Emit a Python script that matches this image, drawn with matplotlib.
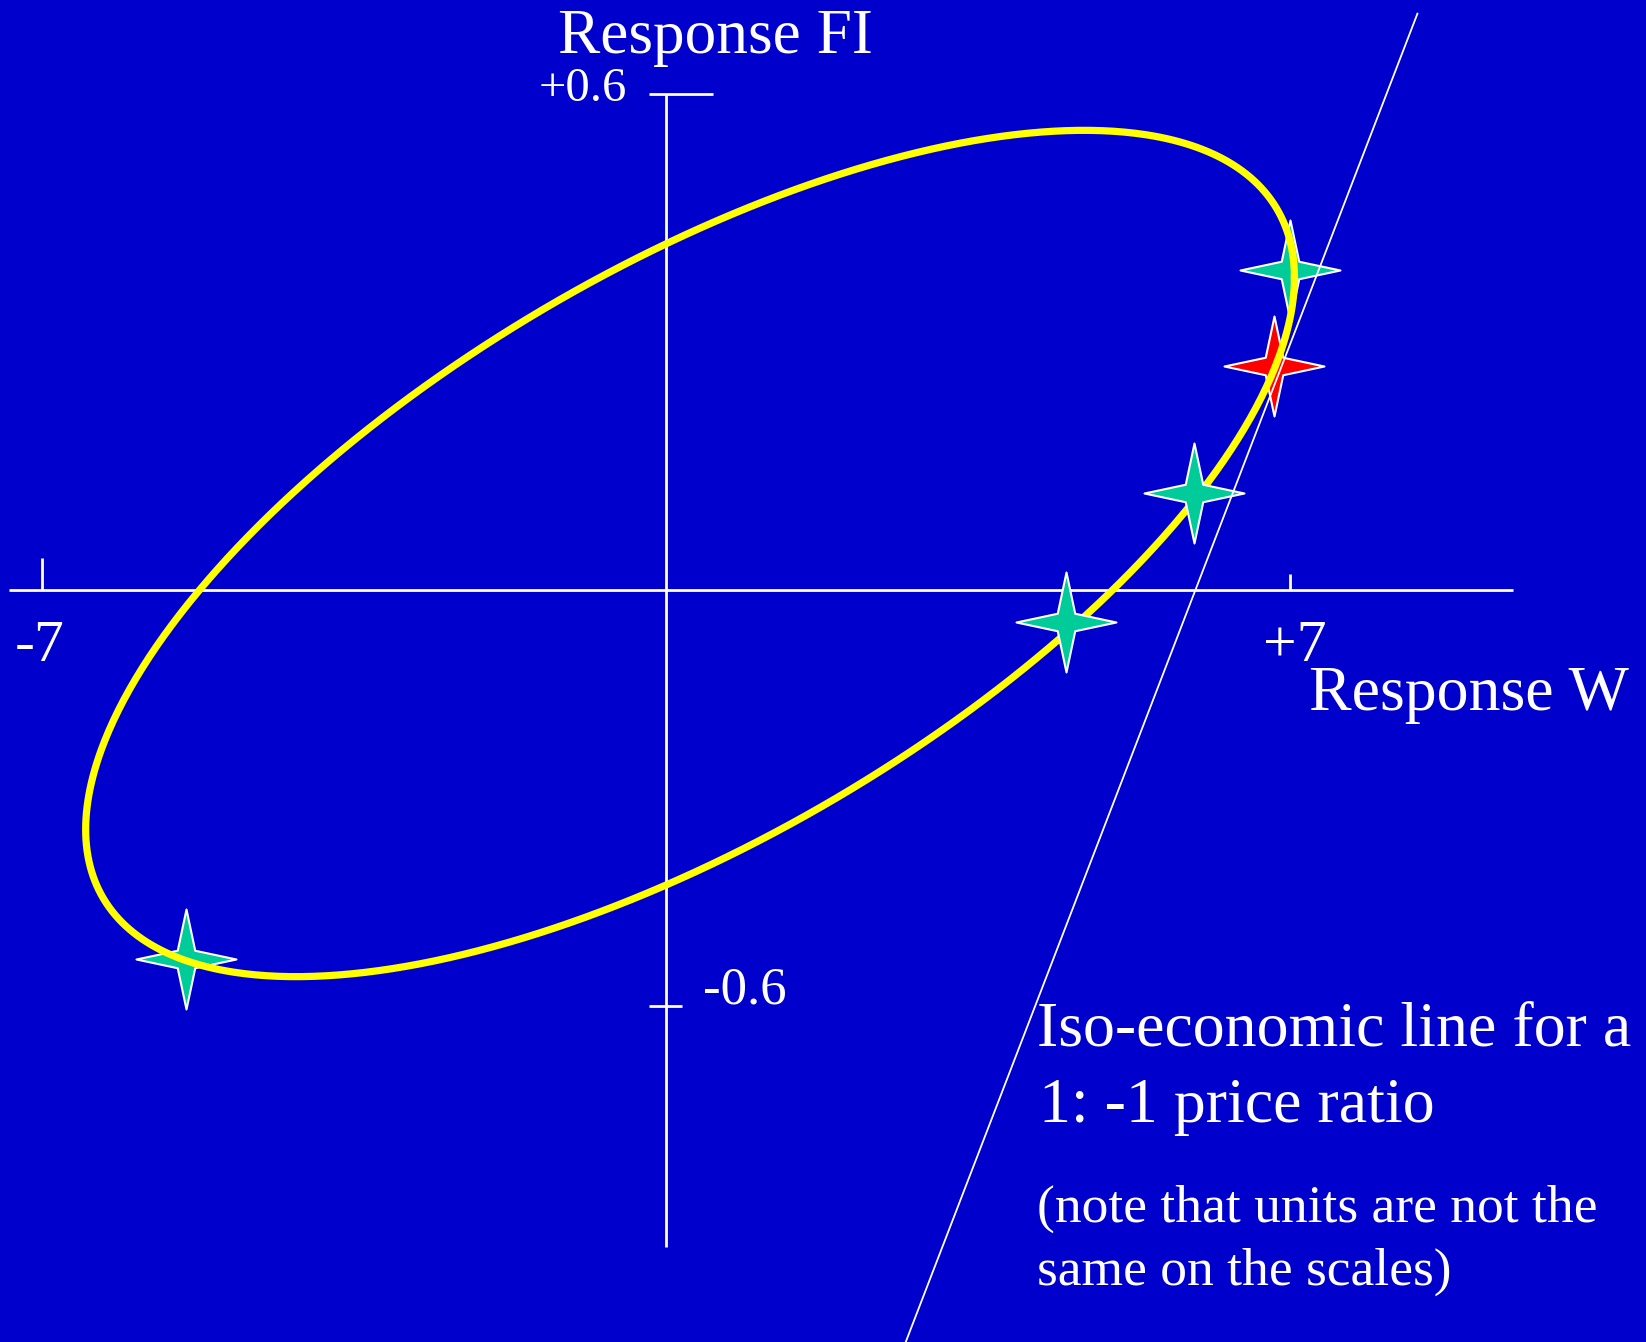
import numpy as np
import matplotlib
matplotlib.use("Agg")
import matplotlib.pyplot as plt
from matplotlib.path import Path

plt.rcParams["font.family"] = ["Liberation Serif", "DejaVu Serif"]

# ---- data -------------------------------------------------------------
W_TICKS = [-7, 7]
W_TICK_LABELS = ["-7", "+7"]
FI_TICKS = [0.6, -0.6]
FI_TICK_LABELS = ["+0.6", "-0.6"]

# response ellipse: centre, half ranges and correlation of W and FI
ELLIPSE_CENTRE_W = 0.27
ELLIPSE_CENTRE_FI = 0.044
ELLIPSE_HALF_W = 6.78
ELLIPSE_HALF_FI = 0.512
ELLIPSE_CORR = 0.652

# selection points on the ellipse
star_w = [7.0, 6.82, 5.92, 4.49, -5.39]
star_fi = [0.387, 0.271, 0.117, -0.047, -0.532]
star_colors = ["#00CC99", "#FF0000", "#00CC99", "#00CC99", "#00CC99"]
star_on_top = [False, False, True, True, False]

# iso-economic line (1:-1 price ratio)
ISO_SLOPE = 0.28
ISO_W_INTERCEPT = 5.94
ISO_W_RANGE = (2.4, 8.43)

# the negative half of the FI axis is drawn compressed
FI_BELOW_FACTOR = 0.839

BG = "#0000CC"
YELLOW = "#FFFF00"
WHITE = "white"


def fwd(y):
    y = np.asarray(y, dtype=float)
    return np.where(y >= 0, y, y * FI_BELOW_FACTOR)


def inv(u):
    u = np.asarray(u, dtype=float)
    return np.where(u >= 0, u, u / FI_BELOW_FACTOR)


fig = plt.figure(figsize=(16.46, 13.42), dpi=100, facecolor=BG)
ax = fig.add_axes([0, 0, 1, 1])
ax.set_facecolor(BG)
ax.set_yscale("function", functions=(fwd, inv))
ax.set_xlim(-7.471, 10.994)
ax.set_ylim(-1.0847, 0.7137)
ax.axis("off")

# ---- axes cross ---------------------------------------------------------
ax.plot([-7.37, 9.50], [0, 0], color=WHITE, lw=2.0, zorder=1,
        solid_capstyle="butt")
ax.plot([0, 0], [FI_TICKS[0], -0.948], color=WHITE, lw=2.0, zorder=1,
        solid_capstyle="butt")

# W ticks (upwards from the W axis)
w_tick_len = [0.0387, 0.0194]
for w, ln, lab in zip(W_TICKS, w_tick_len, W_TICK_LABELS):
    ax.plot([w, w], [0, ln], color=WHITE, lw=2.0, zorder=1,
            solid_capstyle="butt")
    ax.annotate(lab, xy=(w, 0), xytext=(-19.5, -51.5),
                textcoords="offset points", ha="left", va="baseline",
                color=WHITE, fontsize=43)

# FI ticks (short horizontal bars across the FI axis)
fi_tick_span = [(-0.19, 0.527), (-0.19, 0.18)]
for fi, (a, b) in zip(FI_TICKS, fi_tick_span):
    ax.plot([a, b], [fi, fi], color=WHITE, lw=2.0, zorder=1,
            solid_capstyle="butt")
ax.annotate(FI_TICK_LABELS[0], xy=(0, FI_TICKS[0]), xytext=(-28, -4.8),
            textcoords="offset points", ha="right", va="baseline",
            color=WHITE, fontsize=35)
ax.annotate(FI_TICK_LABELS[1], xy=(0, FI_TICKS[1]), xytext=(26.4, 1.4),
            textcoords="offset points", ha="left", va="baseline",
            color=WHITE, fontsize=38)

# ---- response ellipse ---------------------------------------------------
t = np.linspace(0, 2 * np.pi, 721)
ew = ELLIPSE_CENTRE_W + ELLIPSE_HALF_W * np.cos(t)
eu = fwd(ELLIPSE_CENTRE_FI) + ELLIPSE_HALF_FI * (
    ELLIPSE_CORR * np.cos(t) + np.sqrt(1 - ELLIPSE_CORR ** 2) * np.sin(t))
ax.plot(ew, inv(eu), color=YELLOW, lw=5.2, zorder=3)

# ---- four-pointed star markers -------------------------------------------
r = 0.175
star_path = Path([(0, 1), (r, r), (1, 0), (r, -r), (0, -1), (-r, -r),
                  (-1, 0), (-r, r), (0, 1)],
                 [Path.MOVETO] + [Path.LINETO] * 7 + [Path.CLOSEPOLY])
for w, fi, c, top in zip(star_w, star_fi, star_colors, star_on_top):
    ax.plot([w], [fi], marker=star_path, markersize=72, color=c,
            markerfacecolor=c, markeredgecolor=WHITE, markeredgewidth=1.5,
            linestyle="none", zorder=4 if top else 2)

# ---- iso-economic line --------------------------------------------------
lw_ = np.array(ISO_W_RANGE)
lu = ISO_SLOPE * (lw_ - ISO_W_INTERCEPT)
ax.plot(lw_, inv(lu), color=WHITE, lw=1.3, zorder=5)

# ---- titles and notes (figure pixel positions) ---------------------------
H = 1342.0
W_ = 1646.0


def ftext(x, y, s, size, ha="left"):
    fig.text(x / W_, 1 - y / H, s, color=WHITE, fontsize=size, ha=ha,
             va="baseline")


ftext(715, 53, "Response FI", 45.5, ha="center")
ftext(1469, 710, "Response W", 46, ha="center")
ftext(1037, 1045, "Iso-economic line for a", 46)
ftext(1039, 1122, "1: -1 price ratio", 46)
ftext(1037, 1222, "(note that units are not the", 38.5)
ftext(1037, 1285, "same on the scales)", 38.5)

fig.savefig("out.png", dpi=100, facecolor=BG)
